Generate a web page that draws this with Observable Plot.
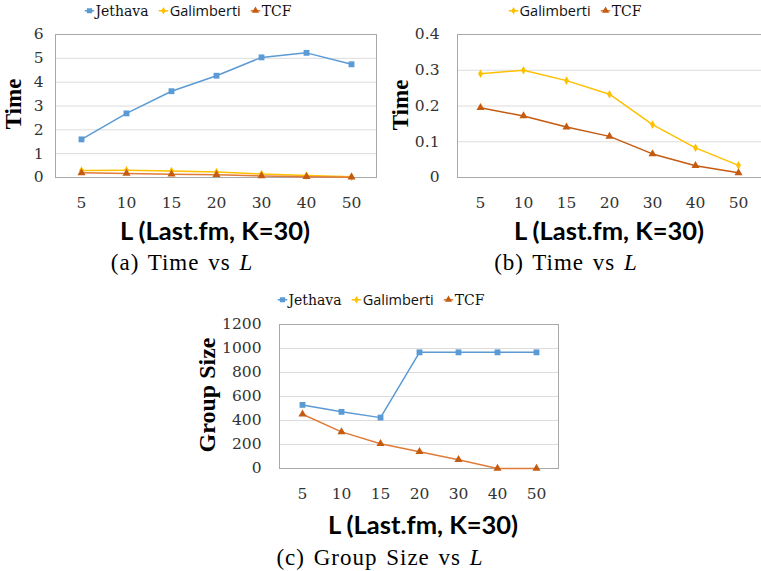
<!DOCTYPE html>
<html>
<head>
<meta charset="utf-8">
<script src="https://cdn.jsdelivr.net/npm/d3@7"></script>
<script src="https://cdn.jsdelivr.net/npm/@observablehq/plot@0.6"></script>
<style>
  body { margin: 0; background: #fff; }
  #page { position: relative; width: 761px; height: 571px; overflow: hidden; background: #fff; }
  .abs { position: absolute; white-space: nowrap; line-height: 1; }
  .ytitle { font-family: "Liberation Serif"; font-weight: bold; font-size: 23px; color: #000;
            transform: translate(-50%, -50%) rotate(-90deg); }
  .xtitle { font-family: Lato; font-weight: bold; font-size: 25.5px; color: #000;
            transform: translate(-50%, -50%); }
  .caption { font-family: "Liberation Serif"; font-size: 23px; letter-spacing: 1px; word-spacing: 2px; color: #000;
             transform: translate(-50%, -50%); }
  .legend { display: flex; gap: 10px; align-items: center; transform: translate(-50%, -50%); }
  .legend .item { display: flex; align-items: center; gap: 1px; color: #111; }
  .plot { position: absolute; }
</style>
</head>
<body>
<div id="page"></div>
<script>
// ---------- data ----------
const L = ["5", "10", "15", "20", "30", "40", "50"];

// (a) / (b) Time vs L
const jethavaTime    = [1.6, 2.69, 3.62, 4.27, 5.04, 5.23, 4.75];
const galimbertiTime = [0.29, 0.30, 0.271, 0.233, 0.148, 0.083, 0.034];
const tcfTime        = [0.195, 0.172, 0.141, 0.115, 0.066, 0.033, 0.013];

// (c) Group Size vs L  (Galimberti has no visible series in the source)
const jethavaSize    = [530, 472, 424, 968, 968, 968, 968];
const tcfSize        = [452, 305, 207, 140, 73, 0, 0];

// tick labels
const timeTicksA = [0, 1, 2, 3, 4, 5, 6];
const timeTicksB = [0, 0.1, 0.2, 0.3, 0.4];
const sizeTicks  = [0, 200, 400, 600, 800, 1000, 1200];

const seriesNames = ["Jethava", "Galimberti", "TCF"];

// ---------- styles ----------
const styleOf = {
  Jethava:    {line: "#5B9BD5", fill: "#5B9BD5", symbol: "square",   r: 3.3, font: "'DejaVu Serif'", size: "14px", weight: 400},
  Galimberti: {line: "#FFC000", fill: "#FFC000", symbol: "diamond",  r: 2.6, font: "'Open Sans'",    size: "14.5px", weight: 400},
  TCF:        {line: "#E07B39", fill: "#C55A11", symbol: "triangle", r: 3.0, font: "'DejaVu Serif'", size: "14px", weight: 400}
};

const page = document.getElementById("page");

function rows(values) { return L.map((l, i) => ({L: l, v: values[i]})); }

function panel({left, top, width, height, ml, mr, mt, mb, domain, ticks, series, yPad, tcfLine}) {
  const marks = [
    Plot.gridY(ticks, {stroke: "#dcdcdc", strokeOpacity: 1}),
    Plot.frame({stroke: "#a8a8a8"}),
    Plot.axisX({tickSize: 0, tickPadding: 19, label: null}),
    Plot.axisY(ticks, {tickSize: 0, tickPadding: yPad, label: null, tickFormat: d => String(d)})
  ];
  for (const s of series) {
    const st = styleOf[s.name];
    const data = rows(s.values);
    const lineColor = s.name === "TCF" && tcfLine ? tcfLine : st.line;
    marks.push(Plot.line(data, {x: "L", y: "v", stroke: lineColor, strokeWidth: 1.5}));
    marks.push(Plot.dot(data, {x: "L", y: "v", symbol: st.symbol, r: st.r, fill: st.fill, stroke: "none"}));
  }
  const svg = Plot.plot({
    width, height, marginLeft: ml, marginRight: mr, marginTop: mt, marginBottom: mb,
    x: {type: "point", domain: L, padding: 0.5},
    y: {domain, axis: null},
    style: {fontFamily: "'DejaVu Serif'", fontSize: "15.5px", color: "#333", background: "transparent", overflow: "visible"},
    marks
  });
  svg.classList.add("plot");
  svg.style.left = left + "px";
  svg.style.top = top + "px";
  page.appendChild(svg);
}

function text(cls, x, y, html) {
  const d = document.createElement("div");
  d.className = "abs " + cls;
  d.style.left = x + "px";
  d.style.top = y + "px";
  d.innerHTML = html;
  page.appendChild(d);
  return d;
}

function legend(x, y, names) {
  const d = text("legend", x, y, "");
  for (const n of names) {
    const st = styleOf[n];
    const item = document.createElement("div");
    item.className = "item";
    const sym = d3.symbol(n === "Jethava" ? d3.symbolSquare : n === "Galimberti" ? d3.symbolDiamond : d3.symbolTriangle,
                          Math.PI * st.r * st.r * 0.8)();
    item.innerHTML =
      `<svg width="10" height="10" viewBox="-5 -5 10 10"><line x1="-5" x2="5" y1="0" y2="0" stroke="${st.line}" stroke-width="1.5"/>` +
      `<path d="${sym}" fill="${st.fill}"/></svg>` +
      `<span style="font-family:${st.font};font-size:${st.size};font-weight:${st.weight}">${n}</span>`;
    d.appendChild(item);
  }
}

// ---------- panel (a) ----------
panel({left: 0, top: 20, width: 380, height: 195, ml: 55, mr: 4, mt: 14, mb: 38,
       domain: [0, 6], ticks: timeTicksA, yPad: 12,
       series: [{name: "Jethava", values: jethavaTime}, {name: "Galimberti", values: galimbertiTime}, {name: "TCF", values: tcfTime}]});
legend(188, 11, seriesNames);
text("ytitle", 13, 104, "Time");
text("xtitle", 215, 231, "L (Last.fm, K=30)");
text("caption", 182, 262, "(a) Time vs <i>L</i>");

// ---------- panel (b) ----------
panel({left: 380, top: 20, width: 382, height: 195, ml: 77, mr: 1, mt: 14, mb: 38,
       domain: [0, 0.4], ticks: timeTicksB, yPad: 18, tcfLine: "#C55A11",
       series: [{name: "Galimberti", values: galimbertiTime}, {name: "TCF", values: tcfTime}]});
legend(575, 11, ["Galimberti", "TCF"]);
text("ytitle", 400, 105, "Time");
text("xtitle", 609, 231, "L (Last.fm, K=30)");
text("caption", 566, 262, "(b) Time vs <i>L</i>");

// ---------- panel (c) ----------
panel({left: 190, top: 310, width: 380, height: 195, ml: 89, mr: 12, mt: 14, mb: 37,
       domain: [0, 1200], ticks: sizeTicks, yPad: 18,
       series: [{name: "Jethava", values: jethavaSize}, {name: "TCF", values: tcfSize}]});
legend(381, 300, seriesNames);
text("ytitle", 207, 395, "Group Size").style.fontSize = "24px";
text("xtitle", 423, 525, "L (Last.fm, K=30)");
text("caption", 380, 557, "(c) Group Size vs <i>L</i>");
</script>
</body>
</html>
